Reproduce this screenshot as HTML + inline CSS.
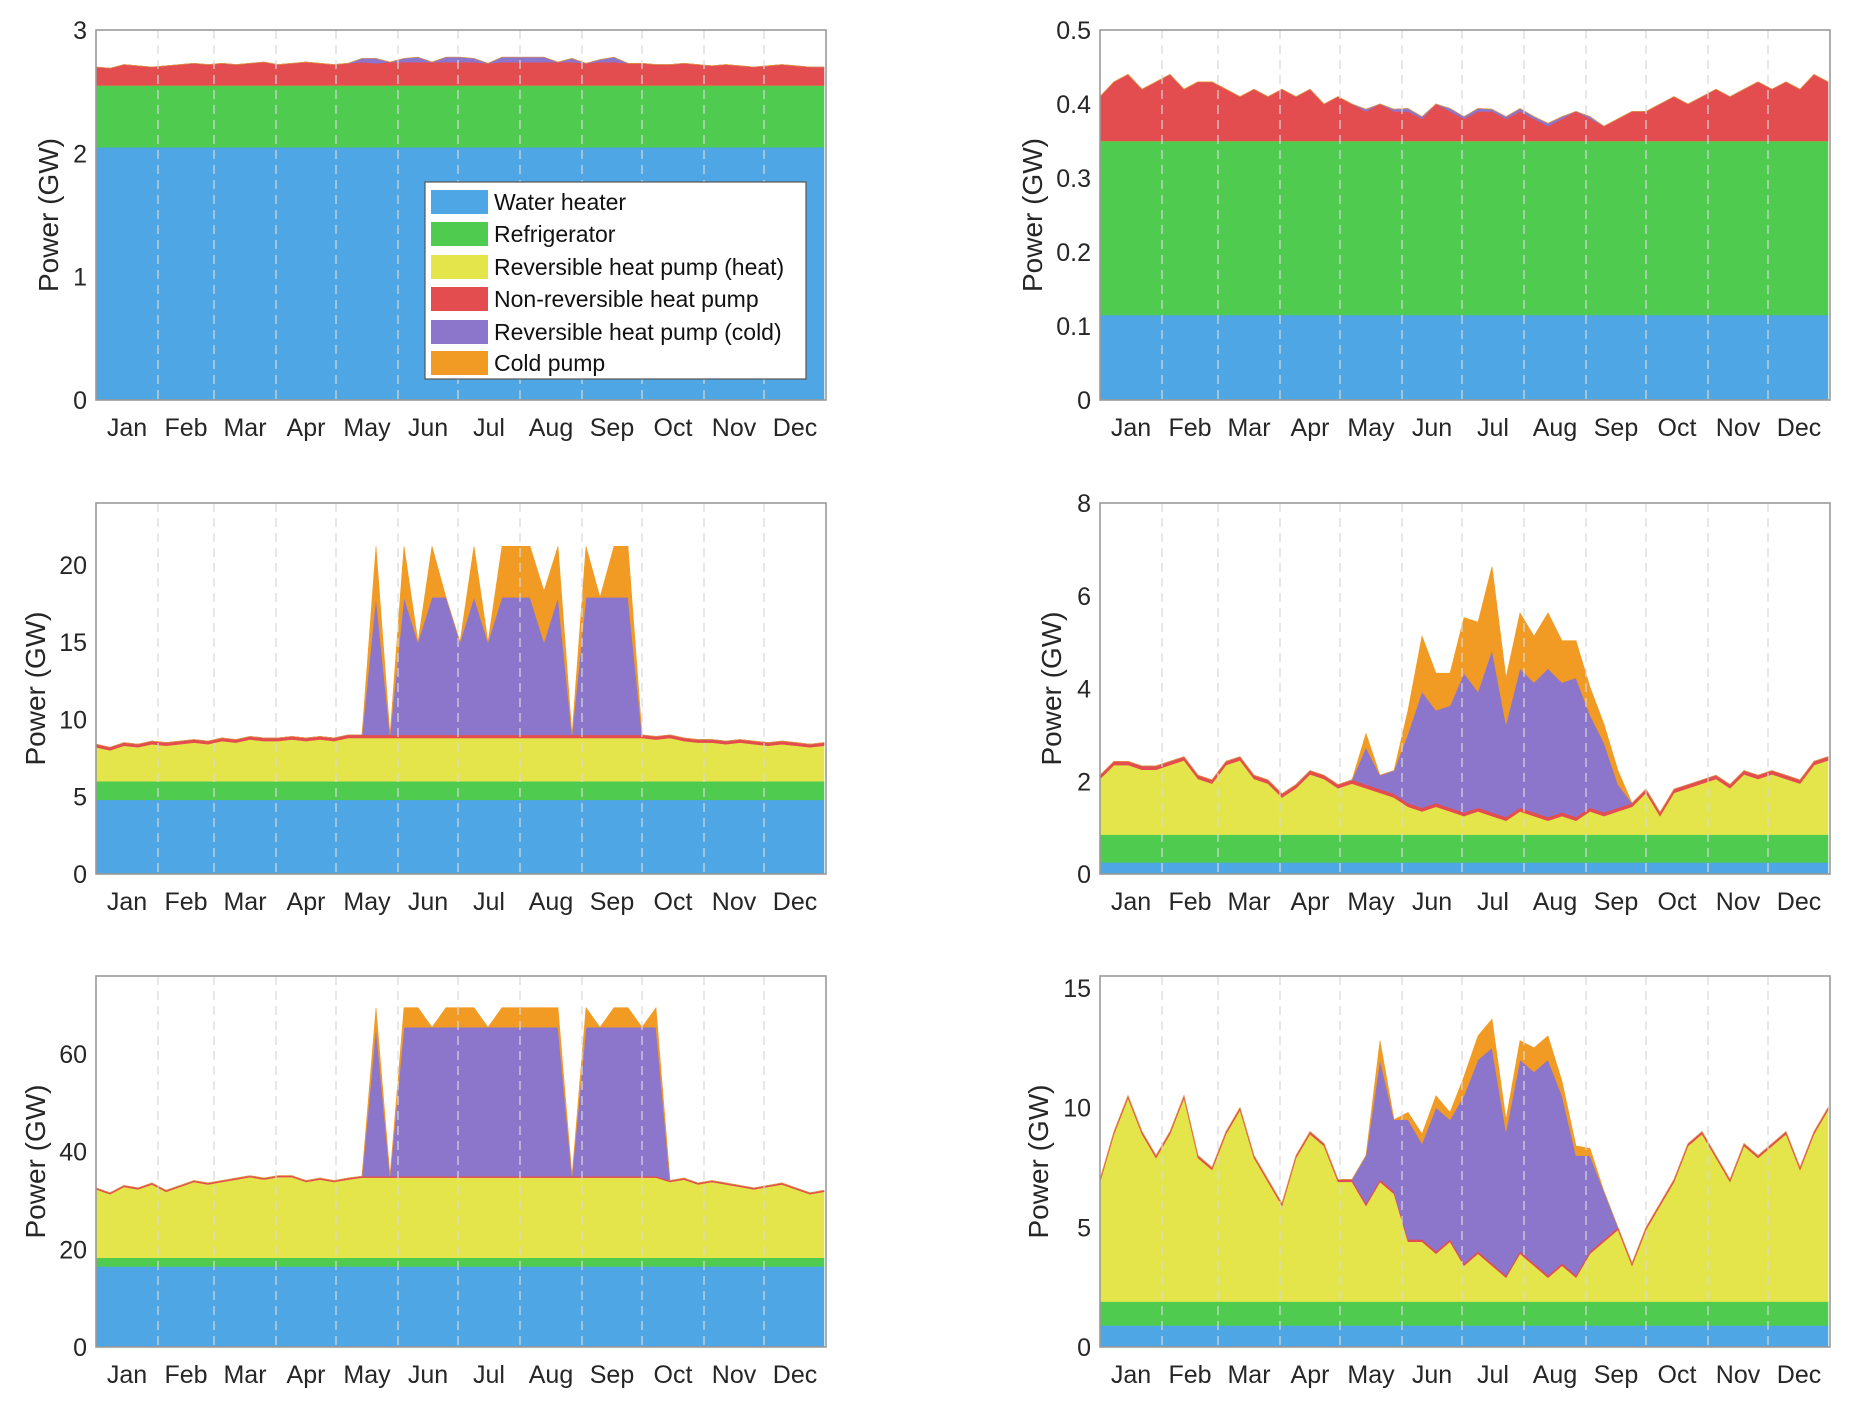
<!DOCTYPE html>
<html><head><meta charset="utf-8">
<style>
html,body{margin:0;padding:0;background:#fff;}
svg{display:block;font-family:"Liberation Sans",Arial,sans-serif;}
</style></head>
<body>
<svg id="fig" width="1851" height="1410" viewBox="0 0 1851 1410" xmlns="http://www.w3.org/2000/svg"></svg>
<script>
const monthLabels = ["Jan","Feb","Mar","Apr","May","Jun","Jul","Aug","Sep","Oct","Nov","Dec"];
const monthStarts = [0,31,59,90,120,151,181,212,243,273,304,334,365];
const seriesNames = ["Water heater","Refrigerator","Reversible heat pump (heat)","Non-reversible heat pump","Reversible heat pump (cold)","Cold pump"];
const seriesColors = ["#4ea6e4","#4fcc50","#e3e54a","#e44d4f","#8c76cc","#f19b24"];
// sample days (weekly)
const sampleDays = [0,7,14,21,28,35,42,49,56,63,70,77,84,91,98,105,112,119,126,133,140,147,154,161,168,175,182,189,196,203,210,217,224,231,238,245,252,259,266,273,280,287,294,301,308,315,322,329,336,343,350,357,364];

// Panel A (top-left)
const A_wh = 2.05, A_ref = 0.5;
const A_heat = [0,0,0,0,0,0,0,0,0,0,0,0,0,0,0,0,0,0,0,0,0,0,0,0,0,0,0,0,0,0,0,0,0,0,0,0,0,0,0,0,0,0,0,0,0,0,0,0,0,0,0,0,0];
const A_nr = [.15,.14,.17,.16,.15,.16,.17,.18,.17,.18,.17,.18,.19,.17,.18,.19,.18,.17,.18,.19,.18,.19,.19,.19,.19,.19,.19,.19,.18,.19,.19,.19,.19,.19,.19,.18,.19,.19,.18,.18,.17,.17,.18,.17,.16,.17,.16,.15,.16,.17,.16,.15,.15];
const A_cold = [0,0,0,0,0,0,0,0,0,0,0,0,0,0,0,0,0,0,0,.03,.04,0,.03,.04,0,.04,.04,.03,0,.04,.04,.04,.04,0,.03,0,.02,.04,0,0,0,0,0,0,0,0,0,0,0,0,0,0,0];
const A_cp = [0,0,0,0,0,0,0,0,0,0,0,0,0,0,0,0,0,0,0,0,0,0,0,0,0,0,0,0,0,0,0,0,0,0,0,0,0,0,0,0,0,0,0,0,0,0,0,0,0,0,0,0,0];

// Panel B (top-right)
const B_wh = 0.115, B_ref = 0.235;
const B_heat = [0,0,0,0,0,0,0,0,0,0,0,0,0,0,0,0,0,0,0,0,0,0,0,0,0,0,0,0,0,0,0,0,0,0,0,0,0,0,0,0,0,0,0,0,0,0,0,0,0,0,0,0,0];
const B_nr = [.06,.08,.09,.07,.08,.09,.07,.08,.08,.07,.06,.07,.06,.07,.06,.07,.05,.06,.05,.04,.05,.04,.04,.03,.05,.04,.03,.04,.04,.03,.04,.03,.02,.03,.04,.03,.02,.03,.04,.04,.05,.06,.05,.06,.07,.06,.07,.08,.07,.08,.07,.09,.08];
const B_cold = [0,0,0,0,0,0,0,0,0,0,0,0,0,0,0,0,0,0,0,.003,0,.003,.004,.003,0,.004,.003,.004,.003,.003,.004,.003,.004,.003,0,.003,0,0,0,0,0,0,0,0,0,0,0,0,0,0,0,0,0];
const B_cp = [0,0,0,0,0,0,0,0,0,0,0,0,0,0,0,0,0,0,0,0,0,0,0,0,0,0,0,0,0,0,0,0,0,0,0,0,0,0,0,0,0,0,0,0,0,0,0,0,0,0,0,0,0];

// Panel C (middle-left)
const C_wh = 4.8, C_ref = 1.2;
const C_heat = [2.2,2.0,2.3,2.2,2.4,2.3,2.4,2.5,2.4,2.6,2.5,2.7,2.6,2.6,2.7,2.6,2.7,2.6,2.8,2.8,2.8,2.8,2.8,2.8,2.8,2.8,2.8,2.8,2.8,2.8,2.8,2.8,2.8,2.8,2.8,2.8,2.8,2.8,2.8,2.8,2.7,2.8,2.6,2.5,2.5,2.4,2.5,2.4,2.3,2.4,2.3,2.2,2.3];
const C_nr = [.2,.2,.2,.2,.2,.2,.2,.2,.2,.2,.2,.2,.2,.2,.2,.2,.2,.2,.2,.2,.2,.2,.2,.2,.2,.2,.2,.2,.2,.2,.2,.2,.2,.2,.2,.2,.2,.2,.2,.2,.2,.2,.2,.2,.2,.2,.2,.2,.2,.2,.2,.2,.2];
const C_cold = [0,0,0,0,0,0,0,0,0,0,0,0,0,0,0,0,0,0,0,0,8.9,0,8.9,6,8.9,8.9,6,8.9,6,8.9,8.9,8.9,6,8.9,0,8.9,8.9,8.9,8.9,0,0,0,0,0,0,0,0,0,0,0,0,0,0];
const C_cp = [0,0,0,0,0,0,0,0,0,0,0,0,0,0,0,0,0,0,0,0,3.3,0,3.3,0,3.3,0,0,3.3,0,3.3,3.3,3.3,3.3,3.3,0,3.3,0,3.3,3.3,0,0,0,0,0,0,0,0,0,0,0,0,0,0];

// Panel D (middle-right)
const D_wh = 0.25, D_ref = 0.6;
const D_heat = [1.2,1.5,1.5,1.4,1.4, 1.5,1.6,1.2,1.1, 1.5,1.6,1.2,1.1, 0.8,1.0,1.3,1.2,1.0, 1.1,1.0,0.9,0.8, 0.6,0.5,0.6,0.5, 0.4,0.5,0.4,0.3,0.5, 0.4,0.3,0.4,0.3, 0.5,0.4,0.5,0.6, 0.9,0.4,0.9,1.0,1.1, 1.2,1.0,1.3,1.2, 1.3,1.2,1.1,1.5,1.6];
const D_nr = [.08,.08,.08,.08,.08,.08,.08,.08,.08,.08,.08,.08,.08,.08,.08,.08,.08,.08,.08,.08,.08,.08,.08,.08,.08,.08,.08,.08,.08,.08,.08,.08,.08,.08,.08,.08,.08,.08,.08,.08,.08,.08,.08,.08,.08,.08,.08,.08,.08,.08,.08,.08,.08];
const D_cold = [0,0,0,0,0, 0,0,0,0, 0,0,0,0, 0,0,0,0,0, 0,0.8,0.3,0.5, 1.5,2.5,2.0,2.2, 3.0,2.5,3.5,2.0,3.0, 2.8,3.2,2.8,3.0, 2.0,1.5,0.5,0, 0,0,0,0,0, 0,0,0,0, 0,0,0,0,0];
const D_cp = [0,0,0,0,0, 0,0,0,0, 0,0,0,0, 0,0,0,0,0, 0,0.3,0,0, 0.5,1.2,0.8,0.7, 1.2,1.5,1.8,1.0,1.2, 1.0,1.2,0.9,0.8, 0.6,0.4,0.3,0, 0,0,0,0,0, 0,0,0,0, 0,0,0,0,0];

// Panel E (bottom-left)
const E_wh = 16.5, E_ref = 1.8;
const E_heat = [14.0,13.0,14.5,14.0,15.0, 13.5,14.5,15.5,15.0, 15.5,16.0,16.5,16.0, 16.5,16.5,15.5,16.0,15.5, 16.0,16.4,16.4,16.4, 16.4,16.4,16.4,16.4, 16.4,16.4,16.4,16.4,16.4, 16.4,16.4,16.4,16.4, 16.4,16.4,16.4,16.4, 16.4,16.4,15.5,16.0,15.0, 15.5,15.0,14.5,14.0, 14.5,15.0,14.0,13.0,13.5];
const E_nr = [.3,.3,.3,.3,.3,.3,.3,.3,.3,.3,.3,.3,.3,.3,.3,.3,.3,.3,.3,.3,.3,.3,.3,.3,.3,.3,.3,.3,.3,.3,.3,.3,.3,.3,.3,.3,.3,.3,.3,.3,.3,.3,.3,.3,.3,.3,.3,.3,.3,.3,.3,.3,.3];
const E_cold = [0,0,0,0,0, 0,0,0,0, 0,0,0,0, 0,0,0,0,0, 0,0,30.5,0, 30.5,30.5,30.5,30.5, 30.5,30.5,30.5,30.5,30.5, 30.5,30.5,30.5,0, 30.5,30.5,30.5,30.5, 30.5,30.5,0,0,0, 0,0,0,0, 0,0,0,0,0];
const E_cp = [0,0,0,0,0, 0,0,0,0, 0,0,0,0, 0,0,0,0,0, 0,0,4,0, 4,4,0,4, 4,4,0,4,4, 4,4,4,0, 4,0,4,4, 0,4,0,0,0, 0,0,0,0, 0,0,0,0,0];

// Panel F (bottom-right)
const F_wh = 0.9, F_ref = 1.0;
const F_heat = [5,7,8.5,7,6, 7,8.5,6,5.5, 7,8,6,5, 4,6,7,6.5,5, 5,4,5,4.5, 2.5,2.5,2,2.5, 1.5,2,1.5,1,2, 1.5,1,1.5,1, 2,2.5,3,1.5, 3,4,5,6.5,7, 6,5,6.5,6, 6.5,7,5.5,7,8];
const F_nr = [.1,.1,.1,.1,.1,.1,.1,.1,.1,.1,.1,.1,.1,.1,.1,.1,.1,.1,.1,.1,.1,.1,.1,.1,.1,.1,.1,.1,.1,.1,.1,.1,.1,.1,.1,.1,.1,.1,.1,.1,.1,.1,.1,.1,.1,.1,.1,.1,.1,.1,.1,.1,.1];
const F_cold = [0,0,0,0,0, 0,0,0,0, 0,0,0,0, 0,0,0,0,0, 0,2,5,3, 5,4,6,5, 7,8,9,6,8, 8,9,7,5, 4,2,0,0, 0,0,0,0,0, 0,0,0,0, 0,0,0,0,0];
const F_cp = [0,0,0,0,0, 0,0,0,0, 0,0,0,0, 0,0,0,0,0, 0,0,0.8,0, 0.3,0.4,0.5,0.3, 0.8,1,1.2,0.5,0.8, 1,1,0.6,0.4, 0.3,0,0,0, 0,0,0,0,0, 0,0,0,0, 0,0,0,0,0];

const ticksA = [0,1,2,3], ticksB = [0,0.1,0.2,0.3,0.4,0.5], ticksC = [0,5,10,15,20], ticksD = [0,2,4,6,8], ticksE = [0,20,40,60], ticksF = [0,5,10,15];

const NS = "http://www.w3.org/2000/svg";
const svg = document.getElementById("fig");
function mk(tag, attrs, parent){ const e=document.createElementNS(NS,tag); for(const k in attrs) e.setAttribute(k,attrs[k]); (parent||svg).appendChild(e); return e; }

const panels = [
 {id:"a", x0:96,x1:826,y0:30,y1:400,ymax:3,ticks:ticksA,fmt:v=>String(v),wh:A_wh,ref:A_ref,heat:A_heat,nr:A_nr,cold:A_cold,cp:A_cp,titleX:58,legend:true},
 {id:"b", x0:1100,x1:1830,y0:30,y1:400,ymax:0.5,ticks:ticksB,fmt:v=>String(v),wh:B_wh,ref:B_ref,heat:B_heat,nr:B_nr,cold:B_cold,cp:B_cp,titleX:1042},
 {id:"c", x0:96,x1:826,y0:503,y1:874,ymax:24,ticks:ticksC,fmt:v=>String(v),wh:C_wh,ref:C_ref,heat:C_heat,nr:C_nr,cold:C_cold,cp:C_cp,titleX:45},
 {id:"d", x0:1100,x1:1830,y0:503,y1:874,ymax:8,ticks:ticksD,fmt:v=>String(v),wh:D_wh,ref:D_ref,heat:D_heat,nr:D_nr,cold:D_cold,cp:D_cp,titleX:1061},
 {id:"e", x0:96,x1:826,y0:976,y1:1347,ymax:76,ticks:ticksE,fmt:v=>String(v),wh:E_wh,ref:E_ref,heat:E_heat,nr:E_nr,cold:E_cold,cp:E_cp,titleX:45},
 {id:"f", x0:1100,x1:1830,y0:976,y1:1347,ymax:15.5,ticks:ticksF,fmt:v=>String(v),wh:F_wh,ref:F_ref,heat:F_heat,nr:F_nr,cold:F_cold,cp:F_cp,titleX:1048}
];

panels.forEach(p=>{
  const g = mk("g",{});
  
  
  const xs = d => p.x0 + d/365*(p.x1-p.x0);
  const ys = v => p.y1 - v/p.ymax*(p.y1-p.y0);
  const n = sampleDays.length;
  const layers = [
    sampleDays.map(()=>p.wh), sampleDays.map(()=>p.ref), p.heat, p.nr, p.cold, p.cp
  ];
  let base = new Array(n).fill(0);
  layers.forEach((lay,li)=>{
    const top = base.map((b,i)=>b+lay[i]);
    let d = "M"+xs(sampleDays[0])+","+ys(top[0]);
    for(let i=1;i<n;i++) d+=" L"+xs(sampleDays[i])+","+ys(top[i]);
    for(let i=n-1;i>=0;i--) d+=" L"+xs(sampleDays[i])+","+ys(base[i]);
    d+="Z";
    const path = mk("path",{d:d,fill:seriesColors[li],stroke:seriesColors[li],"stroke-width":"0.6"},g);
    
    
    base = top;
  });
  for(let m=1;m<12;m++){
    const gx = xs(monthStarts[m]);
    const ln = mk("line",{x1:gx,x2:gx,y1:p.y0,y2:p.y1,stroke:"#d8d8d8","stroke-width":"1.2","stroke-dasharray":"9,6"},g);
    
    
  }
  const fr = mk("rect",{x:p.x0,y:p.y0,width:p.x1-p.x0,height:p.y1-p.y0,fill:"none",stroke:"#9a9a9a","stroke-width":"1.6"},g);
  
  
  for(let m=0;m<12;m++){
    const cx = xs((monthStarts[m]+monthStarts[m+1])/2);
    const t = mk("text",{x:cx,y:p.y1+36,"text-anchor":"middle","font-size":"25",fill:"#262626"},g);
    t.textContent = monthLabels[m];
    
    
  }
  p.ticks.forEach(v=>{
    const t = mk("text",{x:p.x0-9,y:ys(v)+9,"text-anchor":"end","font-size":"25",fill:"#262626"},g);
    t.textContent = p.fmt(v);
    
    
  });
  const cy = (p.y0+p.y1)/2;
  const yt = mk("text",{x:p.titleX,y:cy,"text-anchor":"middle","font-size":"28",fill:"#262626",transform:"rotate(-90 "+p.titleX+" "+cy+")"},g);
  yt.textContent = "Power (GW)";
  
  

  if(p.legend){
    const lg = mk("g",{},g);
    
    
    mk("rect",{x:425,y:182,width:381,height:197,fill:"#fff",stroke:"#555","stroke-width":"1.2"},lg);
    const rows=[202,234,267,299,332,363];
    seriesNames.forEach((nm,i)=>{
      const e = mk("g",{},lg);
      
      
      mk("rect",{x:431,y:rows[i]-12,width:57,height:24,fill:seriesColors[i]},e);
      const t = mk("text",{x:494,y:rows[i]+8,"font-size":"23",fill:"#111"},e);
      t.textContent = nm;
    });
  }
});
</script>
</body></html>
